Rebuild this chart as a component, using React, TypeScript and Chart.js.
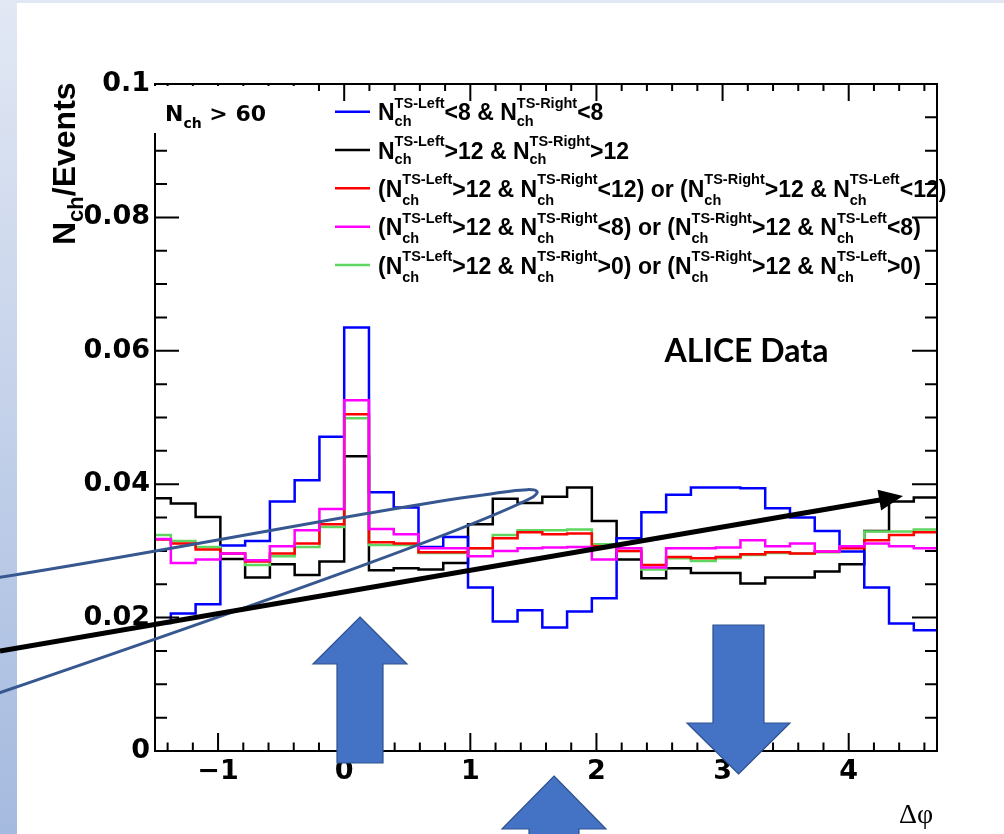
import { useEffect, useRef } from 'react';
import { Chart, registerables } from 'chart.js';

Chart.register(...registerables);

// Δφ histogram binning: 32 equal bins covering [-π/2, 3π/2)
const BIN_COUNT = 32;
const PHI_LOW = -Math.PI / 2;
const PHI_HIGH = (3 * Math.PI) / 2;

const X_MIN = -1.5;
const X_MAX = 4.7;
const Y_MIN = 0;
const Y_MAX = 0.1;

const X_TICKS = [-1, 0, 1, 2, 3, 4];
const X_TICK_LABELS = ['\u22121', '0', '1', '2', '3', '4'];
const Y_TICKS = [0, 0.02, 0.04, 0.06, 0.08, 0.1];
const Y_TICK_LABELS = ['0', '0.02', '0.04', '0.06', '0.08', '0.1'];

// N_ch / Events per Δφ bin for each transverse-side selection
const lowBoth = [
  0.0192, 0.0206, 0.022, 0.0308, 0.0315, 0.0374, 0.0406, 0.0471,
  0.0635, 0.0388, 0.0365, 0.0306, 0.0321, 0.0245, 0.0194, 0.0211,
  0.0185, 0.0209, 0.0229, 0.0319, 0.0358, 0.0384, 0.0395, 0.0395,
  0.0394, 0.0364, 0.035, 0.033, 0.0299, 0.0245, 0.0191, 0.0181,
];
const highBoth = [
  0.0379, 0.0371, 0.0351, 0.0288, 0.026, 0.028, 0.0264, 0.0284,
  0.0442, 0.0271, 0.0274, 0.0272, 0.0282, 0.034, 0.0378, 0.0372,
  0.0381, 0.0395, 0.0345, 0.0287, 0.0259, 0.0274, 0.0267, 0.0267,
  0.0251, 0.026, 0.026, 0.0269, 0.028, 0.033, 0.0374, 0.038,
];
const highOneBelow12 = [
  0.0317, 0.0311, 0.0302, 0.0296, 0.0284, 0.0296, 0.0311, 0.034,
  0.0505, 0.0313, 0.0311, 0.0298, 0.0298, 0.0304, 0.0319, 0.0328,
  0.0325, 0.0326, 0.0307, 0.03, 0.0279, 0.0291, 0.0289, 0.0291,
  0.0295, 0.0298, 0.0296, 0.0299, 0.0304, 0.0316, 0.0324, 0.0328,
];
const highOneBelow8 = [
  0.0318, 0.0282, 0.0287, 0.0296, 0.0286, 0.0307, 0.0331, 0.0363,
  0.0526, 0.0333, 0.0325, 0.0304, 0.0304, 0.0292, 0.03, 0.0304,
  0.0305, 0.0306, 0.0287, 0.0304, 0.0275, 0.0304, 0.0304, 0.0305,
  0.0316, 0.0307, 0.0311, 0.0299, 0.0307, 0.0311, 0.0307, 0.0304,
];
const highOneAbove0 = [
  0.0324, 0.0315, 0.0306, 0.0296, 0.0279, 0.0292, 0.0306, 0.0336,
  0.0499, 0.0309, 0.0309, 0.0297, 0.0297, 0.0304, 0.0324, 0.0331,
  0.0331, 0.0332, 0.031, 0.03, 0.0272, 0.0289, 0.0285, 0.0289,
  0.0294, 0.0297, 0.0296, 0.0298, 0.0305, 0.0329, 0.0329, 0.0332,
];

const SERIES_LABELS = [
  'N^{TS-Left}_{ch}<8 & N^{TS-Right}_{ch}<8',
  'N^{TS-Left}_{ch}>12 & N^{TS-Right}_{ch}>12',
  '(N^{TS-Left}_{ch}>12 & N^{TS-Right}_{ch}<12) or (N^{TS-Right}_{ch}>12 & N^{TS-Left}_{ch}<12)',
  '(N^{TS-Left}_{ch}>12 & N^{TS-Right}_{ch}<8) or (N^{TS-Right}_{ch}>12 & N^{TS-Left}_{ch}<8)',
  '(N^{TS-Left}_{ch}>12 & N^{TS-Right}_{ch}>0) or (N^{TS-Right}_{ch}>12 & N^{TS-Left}_{ch}>0)',
];
const SERIES_VALUES = [lowBoth, highBoth, highOneBelow12, highOneBelow8, highOneAbove0];
const SERIES_COLORS = ['#0000ff', '#000000', '#ff0000', '#ff00ff', '#5fd65f'];
// drawing stack, bottom to top
const DRAW_ORDER = [1, 0, 4, 2, 3];

const CUT_LABEL = 'N_{ch} > 60';
const Y_TITLE = 'N_{ch}/Events';
const X_TITLE = '\u0394\u03c6';
const DATA_LABEL = 'ALICE Data';

// Slide overlays, placed in (Δφ, N_ch/Events) coordinates
const LOOP_PATH: (string | number)[][] = [
  ['M', -2.967, 0.02534],
  ['C', -1.54, 0.02939, 0.284, 0.03643, 1.1005, 0.03838],
  ['C', 1.394, 0.03928, 1.616, 0.03973, 1.497, 0.03808],
  ['C', 1.0767, 0.03388, -0.3504, 0.02414, -2.967, 0.0072],
];
const TREND_ARROW = { from: [-2.729, 0.01499], to: [4.4304, 0.03823] };
const BLOCK_ARROWS = [
  { x: 0.1253, tip: 0.02009, tail: -0.0018, head: 47, headHalf: 47, shaftHalf: 23 },
  { x: 3.126, tip: -0.00345, tail: 0.01889, head: 51, headHalf: 51.5, shaftHalf: 25.5 },
  { x: 1.6634, tip: -0.00375, tail: -0.018, head: 53, headHalf: 52, shaftHalf: 25 },
];

const SANS = '"Liberation Sans", Arial, Helvetica, sans-serif';
const WIDE_SANS = '"DejaVu Sans", Verdana, sans-serif';

type Piece = { text?: string; sup?: string; sub?: string };

function parseLatex(src: string): Piece[] {
  const out: Piece[] = [];
  let buf = '';
  let i = 0;
  const readGroup = () => {
    let s = '';
    i++;
    while (i < src.length && src[i] !== '}') {
      s += src[i];
      i++;
    }
    i++;
    return s;
  };
  while (i < src.length) {
    const c = src[i];
    if ((c === '^' || c === '_') && src[i + 1] === '{') {
      if (buf) {
        out.push({ text: buf });
        buf = '';
      }
      const piece: Piece = {};
      while (i < src.length && (src[i] === '^' || src[i] === '_') && src[i + 1] === '{') {
        const key = src[i] === '^' ? 'sup' : 'sub';
        i++;
        piece[key] = readGroup();
      }
      out.push(piece);
    } else {
      buf += c;
      i++;
    }
  }
  if (buf) out.push({ text: buf });
  return out;
}

function drawLatex(
  ctx: CanvasRenderingContext2D,
  src: string,
  x: number,
  y: number,
  mainPx: number,
  scriptPx: number,
  supDy: number,
  subDy: number,
  family: string = SANS,
) {
  const mainFont = `bold ${mainPx}px ${family}`;
  const scriptFont = `bold ${scriptPx}px ${family}`;
  let cx = x;
  for (const p of parseLatex(src)) {
    if (p.text !== undefined) {
      ctx.font = mainFont;
      ctx.fillText(p.text, cx, y);
      cx += ctx.measureText(p.text).width;
    } else {
      ctx.font = scriptFont;
      let w = 0;
      if (p.sup) {
        ctx.fillText(p.sup, cx, y - supDy);
        w = Math.max(w, ctx.measureText(p.sup).width);
      }
      if (p.sub) {
        ctx.fillText(p.sub, cx, y + subDy);
        w = Math.max(w, ctx.measureText(p.sub).width);
      }
      cx += w;
    }
  }
  return cx;
}

function histogramPoints(values: number[]) {
  const width = (PHI_HIGH - PHI_LOW) / BIN_COUNT;
  const pts = values.map((v, k) => ({ x: PHI_LOW + k * width, y: v }));
  pts.push({ x: PHI_HIGH, y: values[values.length - 1] });
  return pts;
}

const slidePlugin = {
  id: 'slideDecor',
  beforeDraw(chart: any) {
    const { ctx, width, height } = chart;
    ctx.save();
    ctx.fillStyle = '#ffffff';
    ctx.fillRect(0, 0, width, height);
    const g = ctx.createLinearGradient(0, 0, 0, height);
    g.addColorStop(0, '#e2e8f4');
    g.addColorStop(1, '#a5badf');
    ctx.fillStyle = g;
    ctx.fillRect(0, 0, 17, height);
    ctx.fillStyle = '#e2e8f3';
    ctx.fillRect(17, 0, width - 17, 3);
    ctx.restore();
  },
  afterDatasetsDraw(chart: any) {
    const { ctx, chartArea } = chart;
    const xs = chart.scales.x;
    const ys = chart.scales.y;
    const { left, right, top, bottom } = chartArea;
    ctx.save();
    ctx.strokeStyle = '#000';
    ctx.lineWidth = 2;
    ctx.lineCap = 'butt';
    // frame
    ctx.strokeRect(left, top, right - left, bottom - top);
    // x ticks: majors at integers, minors every 0.2
    ctx.beginPath();
    for (let i = -7; i <= 23; i++) {
      const v = i * 0.2;
      const px = xs.getPixelForValue(v);
      const major = i % 5 === 0;
      ctx.moveTo(px, bottom);
      ctx.lineTo(px, bottom - (major ? 18 : 8.5));
      ctx.moveTo(px, top);
      ctx.lineTo(px, top + (major ? 17 : 7));
    }
    // y ticks: majors every 0.02, minors every 0.005
    for (let i = 0; i <= 20; i++) {
      const v = i * 0.005;
      const py = ys.getPixelForValue(v);
      const major = i % 4 === 0;
      ctx.moveTo(left, py);
      ctx.lineTo(left + (major ? 24 : 12), py);
      ctx.moveTo(right, py);
      ctx.lineTo(right - (major ? 25 : 12), py);
    }
    ctx.stroke();

    // text box behind the multiplicity cut label
    ctx.fillStyle = '#ffffff';
    ctx.fillRect(left - 4, top + 2, 160, 47);

    ctx.fillStyle = '#000';
    ctx.textBaseline = 'alphabetic';
    ctx.textAlign = 'left';
    drawLatex(ctx, CUT_LABEL, left + 10, top + 37, 22, 14, 12, 7, WIDE_SANS);

    // legend
    const rowY = [111.7, 150, 188.3, 226.7, 265];
    SERIES_LABELS.forEach((label, i) => {
      const ly = rowY[i];
      ctx.strokeStyle = SERIES_COLORS[i];
      ctx.lineWidth = 2.5;
      ctx.beginPath();
      ctx.moveTo(335, ly);
      ctx.lineTo(370, ly);
      ctx.stroke();
      ctx.fillStyle = '#000';
      drawLatex(ctx, label, 378, ly + 8.5, 23, 14.5, 12.5, i < 2 ? 5.5 : 8);
    });

    // experiment tag
    ctx.font = `bold 32px Lato, "Open Sans", sans-serif`;
    ctx.textAlign = 'center';
    ctx.fillText(DATA_LABEL, 746.5, 362);

    // axis titles
    ctx.textAlign = 'left';
    ctx.font = `28px "Liberation Serif", "Times New Roman", serif`;
    ctx.fillText(X_TITLE, 899, 823);

    ctx.save();
    ctx.translate(75, 245);
    ctx.rotate(-Math.PI / 2);
    drawLatex(ctx, Y_TITLE, 0, 0, 32, 22, 13, 8);
    ctx.restore();

    ctx.restore();
  },
  afterDraw(chart: any) {
    const { ctx } = chart;
    const xs = chart.scales.x;
    const ys = chart.scales.y;
    const P = (x: number, y: number) => [xs.getPixelForValue(x), ys.getPixelForValue(y)];
    ctx.save();

    // hand-drawn loop
    ctx.beginPath();
    for (const cmd of LOOP_PATH) {
      const n = cmd.slice(1) as number[];
      if (cmd[0] === 'M') {
        const [px, py] = P(n[0], n[1]);
        ctx.moveTo(px, py);
      } else {
        const [a, b] = P(n[0], n[1]);
        const [c, d] = P(n[2], n[3]);
        const [e, f] = P(n[4], n[5]);
        ctx.bezierCurveTo(a, b, c, d, e, f);
      }
    }
    ctx.strokeStyle = '#36578f';
    ctx.lineWidth = 3;
    ctx.stroke();

    // trend arrow
    const [x0, y0] = P(TREND_ARROW.from[0], TREND_ARROW.from[1]);
    const [x1, y1] = P(TREND_ARROW.to[0], TREND_ARROW.to[1]);
    const ang = Math.atan2(y1 - y0, x1 - x0);
    const headLen = 24;
    const headHalf = 10.5;
    const bx = x1 - headLen * Math.cos(ang);
    const by = y1 - headLen * Math.sin(ang);
    ctx.strokeStyle = '#000';
    ctx.lineWidth = 5;
    ctx.beginPath();
    ctx.moveTo(x0, y0);
    ctx.lineTo(bx + 2 * Math.cos(ang), by + 2 * Math.sin(ang));
    ctx.stroke();
    ctx.fillStyle = '#000';
    ctx.beginPath();
    ctx.moveTo(x1, y1);
    ctx.lineTo(bx - headHalf * Math.sin(ang), by + headHalf * Math.cos(ang));
    ctx.lineTo(bx + headHalf * Math.sin(ang), by - headHalf * Math.cos(ang));
    ctx.closePath();
    ctx.fill();

    // block arrows
    for (const a of BLOCK_ARROWS) {
      const [cx, tipY] = P(a.x, a.tip);
      const [, tailY] = P(a.x, a.tail);
      const dir = tailY > tipY ? 1 : -1;
      const baseY = tipY + dir * a.head;
      ctx.beginPath();
      ctx.moveTo(cx, tipY);
      ctx.lineTo(cx + a.headHalf, baseY);
      ctx.lineTo(cx + a.shaftHalf, baseY);
      ctx.lineTo(cx + a.shaftHalf, tailY);
      ctx.lineTo(cx - a.shaftHalf, tailY);
      ctx.lineTo(cx - a.shaftHalf, baseY);
      ctx.lineTo(cx - a.headHalf, baseY);
      ctx.closePath();
      ctx.fillStyle = '#4472c4';
      ctx.fill();
      ctx.strokeStyle = '#2f528f';
      ctx.lineWidth = 1.2;
      ctx.stroke();
    }
    ctx.restore();
  },
};

export default function App() {
  const canvasRef = useRef<HTMLCanvasElement | null>(null);

  useEffect(() => {
    const canvas = canvasRef.current;
    if (!canvas) return;
    const datasets = DRAW_ORDER.map((idx, pos) => ({
      label: SERIES_LABELS[idx],
      data: histogramPoints(SERIES_VALUES[idx]),
      borderColor: SERIES_COLORS[idx],
      borderWidth: 2.5,
      stepped: true as const,
      pointRadius: 0,
      fill: false,
      clip: 0,
      order: DRAW_ORDER.length - pos,
    }));

    const tickFont = { family: WIDE_SANS, size: 27, weight: 'bold' as const };

    const chart = new Chart(canvas, {
      type: 'line',
      data: { datasets },
      plugins: [slidePlugin],
      options: {
        responsive: false,
        animation: false,
        devicePixelRatio: 1,
        layout: { padding: { left: 0, top: 84, right: 67, bottom: 0 } },
        plugins: { legend: { display: false }, tooltip: { enabled: false } },
        events: [],
        scales: {
          x: {
            type: 'linear',
            min: X_MIN,
            max: X_MAX,
            grid: { display: false, drawTicks: false },
            border: { display: false },
            afterBuildTicks: (s: any) => {
              s.ticks = X_TICKS.map((v) => ({ value: v }));
            },
            afterFit: (s: any) => {
              s.height = 83;
            },
            ticks: {
              autoSkip: false,
              maxRotation: 0,
              minRotation: 0,
              padding: 5,
              color: '#000',
              font: tickFont,
              callback: (v: any) => X_TICK_LABELS[X_TICKS.indexOf(Number(v))] ?? '',
            },
          },
          y: {
            type: 'linear',
            min: Y_MIN,
            max: Y_MAX,
            grid: { display: false, drawTicks: false },
            border: { display: false },
            afterBuildTicks: (s: any) => {
              s.ticks = Y_TICKS.map((v) => ({ value: v }));
            },
            afterFit: (s: any) => {
              s.width = 155;
            },
            ticks: {
              autoSkip: false,
              padding: 5,
              color: '#000',
              font: tickFont,
              callback: (v: any) => {
                const i = Y_TICKS.findIndex((t) => Math.abs(t - Number(v)) < 1e-9);
                return i >= 0 ? Y_TICK_LABELS[i] : '';
              },
            },
          },
        },
      },
    });
    return () => chart.destroy();
  }, []);

  return (
    <div style={{ position: 'fixed', left: 0, top: 0, width: 1004, height: 834, background: '#fff' }}>
      <canvas ref={canvasRef} width={1004} height={834} style={{ width: 1004, height: 834, display: 'block' }} />
    </div>
  );
}
